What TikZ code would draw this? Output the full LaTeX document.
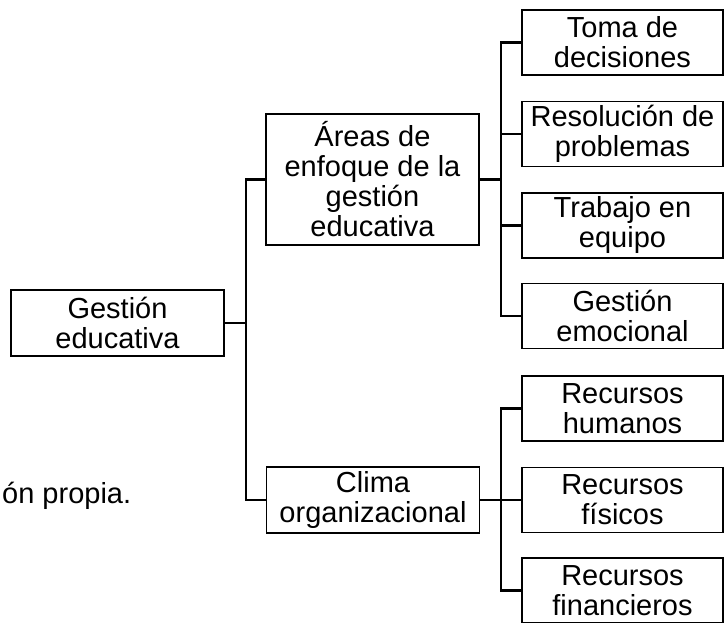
\documentclass[tikz,border=0pt]{standalone}
\usepackage{fontspec}
\setmainfont{Liberation Sans}
\begin{document}
\begin{tikzpicture}[x=1pt,y=1pt,
  box/.style={draw, line width=1.8pt, align=center, inner sep=0pt,
    font=\fontsize{29}{30}\selectfont},
  midbox/.style={box, minimum width=213pt},
  leafbox/.style={box, minimum width=201pt, minimum height=65pt},
  conn/.style={line width=2.3pt}]
\useasboundingbox (0,0) rectangle (725,-623);
\node[midbox, minimum height=66pt] (ge) at (117.5,-323) {Gestión\\educativa};
\node[midbox, minimum height=131pt] (areas) at (372.5,-179.5) {Áreas de\\enfoque de la\\gestión\\educativa};
\node[midbox, minimum height=66pt] (clima) at (373,-500) {Clima\\organizacional};
\node[leafbox] (toma) at (622.5,-42.5) {Toma de\\decisiones};
\node[leafbox] (resol) at (622.5,-134) {Resolución de\\problemas};
\node[leafbox] (trab) at (622.5,-225.5) {Trabajo en\\equipo};
\node[leafbox] (gemoc) at (622.5,-316) {Gestión\\emocional};
\node[leafbox] (rh) at (622.5,-408.5) {Recursos\\humanos};
\node[leafbox] (rf) at (622.5,-500) {Recursos\\físicos};
\node[leafbox] (rfin) at (622.5,-590.5) {Recursos\\financieros};
\node[anchor=base west, inner sep=0pt, font=\fontsize{29}{30}\selectfont] (src) at (2,-503) {ón propia.};
\coordinate (j1) at (246,-323);
\coordinate (j2) at (501,-179.5);
\coordinate (j3) at (501,-500);
\draw[conn] (ge.east) -- (j1);
\draw[conn] (areas.west) -| (j1) |- (clima.west);
\draw[conn] (areas.east) -- (j2);
\draw[conn] (toma.west) -| (j2) |- (gemoc.west);
\draw[conn] (j2) |- (resol.west);
\draw[conn] (j2) |- (trab.west);
\draw[conn] (clima.east) -- (j3);
\draw[conn] (rh.west) -| (j3) |- (rfin.west);
\draw[conn] (j3) -- (rf.west);
\end{tikzpicture}
\end{document}
